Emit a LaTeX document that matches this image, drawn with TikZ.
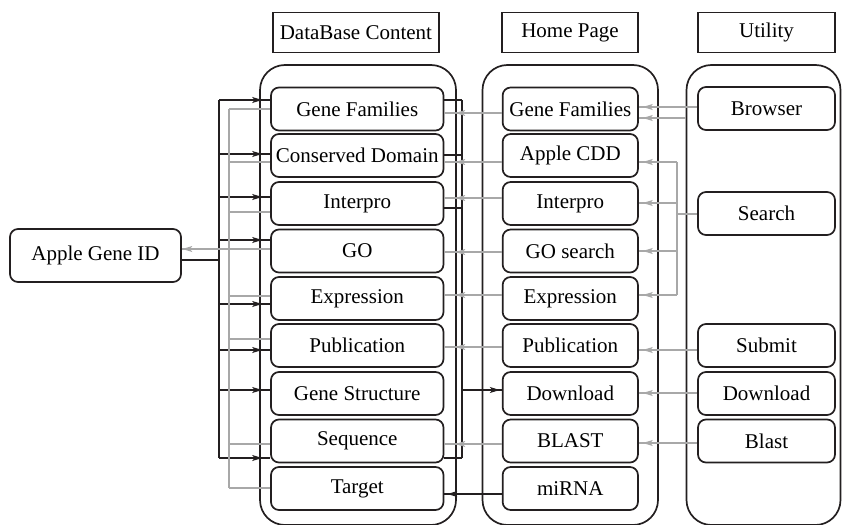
\documentclass[tikz,border=0pt]{standalone}
\usepackage{fontspec}
\setmainfont{Liberation Serif}
\newfontfamily\labelface{Liberation Serif}
\usetikzlibrary{arrows.meta,decorations.markings}

\definecolor{inkdark}{HTML}{231F20}
\definecolor{inkgray}{HTML}{A8A8A8}

\tikzset{
  headbox/.style={draw=inkdark, line width=1.7pt, inner sep=0pt,
    minimum height=40pt, font=\labelface\fontsize{21}{25}\selectfont},
  column/.style={draw=inkdark, line width=1.7pt, rounded corners=25pt, inner sep=0pt},
  itembox/.style={draw=inkdark, line width=1.7pt, rounded corners=8pt, inner sep=0pt,
    minimum height=43pt, font=\labelface\fontsize{21}{25}\selectfont},
  dbbox/.style={itembox, minimum width=172.5pt},
  homebox/.style={itembox, minimum width=135.3pt},
  utilbox/.style={itembox, minimum width=137pt},
  blk/.style={draw=inkdark, line width=1.1pt},
  gry/.style={draw=inkgray, line width=1.1pt},
  tipat/.style={postaction={decorate}, decoration={markings,
    mark=at position -#1 with {\arrow{Stealth[length=10pt,width=6pt,inset=2.5pt]}}}},
}

\begin{document}
\begin{tikzpicture}[x=1pt,y=-1pt]
\useasboundingbox (0,0) rectangle (842,524);

% column headers
\node[headbox, minimum width=166.3pt] (hdDB)   at (355.9,32.5) {DataBase Content};
\node[headbox, minimum width=136pt]   (hdHome) at (570,32.5)   {Home Page};
\node[headbox, minimum width=137pt]   (hdUtil) at (766.5,32.5) {Utility};

% rounded column frames (open at the lower border)
\node[column, minimum width=196pt,   minimum height=460pt] (colDB)   at (358,295)    {};
\node[column, minimum width=175.5pt, minimum height=460pt] (colHome) at (570.25,295) {};
\node[column, minimum width=154pt,   minimum height=460pt] (colUtil) at (763.5,295)  {};

% entry point
\node[itembox, minimum width=171pt, minimum height=53pt] (gid) at (95.5,255.5) {Apple Gene ID};

% database content
\node[dbbox] (gf)  at (357.25,109)   {Gene Families};
\node[dbbox] (cd)  at (357.25,155.5) {Conserved Domain};
\node[dbbox] (ip)  at (357.25,203.5) {Interpro};
\node[dbbox] (go)  at (357.25,251)   {GO};
\node[dbbox] (ex)  at (357.25,298.5) {Expression};
\node[dbbox] (pub) at (357.25,345.5) {Publication};
\node[dbbox] (gs)  at (357.25,393.5) {Gene Structure};
\node[dbbox] (seq) at (357.25,441)   {Sequence};
\node[dbbox] (tg)  at (357.25,488.5) {Target};

% home page
\node[homebox] (hgf)  at (570.3,109)   {Gene Families};
\node[homebox] (hcdd) at (570.3,155.5) {Apple CDD};
\node[homebox] (hip)  at (570.3,203.5) {Interpro};
\node[homebox] (hgo)  at (570.3,251)   {GO search};
\node[homebox] (hex)  at (570.3,298.5) {Expression};
\node[homebox] (hpub) at (570.3,345.5) {Publication};
\node[homebox] (hdl)  at (570.3,393.5) {Download};
\node[homebox] (hbl)  at (570.3,441)   {BLAST};
\node[homebox] (hmi)  at (570.3,488.5) {miRNA};

% utility
\node[utilbox] (ubr)  at (766.5,108.5) {Browser};
\node[utilbox] (usr)  at (766.5,213.5) {Search};
\node[utilbox] (usb)  at (766.5,345.5) {Submit};
\node[utilbox] (udl)  at (766.5,393.5) {Download};
\node[utilbox] (ubl)  at (766.5,441)   {Blast};

% junction points of the buses
\coordinate (bkL) at (219,0);
\coordinate (gyL) at (229,0);
\coordinate (bkR) at (462,0);
\coordinate (gyU) at (677,0);

% Apple Gene ID -> every content entry (black bus)
\draw[blk] (gid.east |- 0,260) -- (bkL |- 0,260);
\draw[blk] (bkL |- 0,100) -- (bkL |- 0,458);
\foreach \nd/\yy in {gf/100, cd/154, ip/197, go/240, ex/304, pub/350, gs/390, seq/458}
  \draw[blk, tipat=8pt] (bkL |- 0,\yy) -- (\nd.west |- 0,\yy);

% content entries -> Apple Gene ID (gray bus)
\draw[gry] (gyL |- 0,109) -- (gyL |- 0,488);
\foreach \nd/\yy in {gf/109, cd/162, ip/212, ex/296, pub/339, seq/444, tg/488}
  \draw[gry] (\nd.west |- 0,\yy) -- (gyL |- 0,\yy);
\draw[gry, tipat=0.5pt] (go.west |- 0,249) -- (gid.east |- 0,249);

% sequence-bearing entries -> Download
\foreach \nd/\yy in {gf/100, cd/155, ip/208, seq/458}
  \draw[blk] (\nd.east |- 0,\yy) -- (bkR |- 0,\yy);
\draw[blk] (bkR |- 0,100) -- (bkR |- 0,458);
\draw[blk, tipat=2pt] (bkR |- 0,390) -- (hdl.west |- 0,390);

% home page -> database content
\foreach \src/\dst/\yy in {hgf/gf/113, hcdd/cd/162, hip/ip/198, hgo/go/252,
                           hex/ex/295, hpub/pub/347, hbl/seq/444}
  \draw[gry, tipat=11pt] (\src.west |- 0,\yy) -- (\dst.east |- 0,\yy);
\draw[blk, tipat=3pt] (hmi.west |- 0,494) -- (tg.east |- 0,494);

% utility -> home page
\draw[gry, tipat=4pt] (ubr.west |- 0,107) -- (hgf.east |- 0,107);
\draw[gry, tipat=4pt] (colUtil.west |- 0,118) -- (hgf.east |- 0,118);
\draw[gry] (usr.west |- 0,214) -- (gyU |- 0,214);
\draw[gry] (gyU |- 0,162) -- (gyU |- 0,295);
\foreach \dst/\yy in {hcdd/162, hip/203, hgo/251, hex/295}
  \draw[gry, tipat=4pt] (gyU |- 0,\yy) -- (\dst.east |- 0,\yy);
\draw[gry, tipat=4pt] (usb.west |- 0,350) -- (hpub.east |- 0,350);
\draw[gry, tipat=4pt] (udl.west |- 0,393) -- (hdl.east |- 0,393);
\draw[gry, tipat=4pt] (ubl.west |- 0,443) -- (hbl.east |- 0,443);
\end{tikzpicture}
\end{document}
